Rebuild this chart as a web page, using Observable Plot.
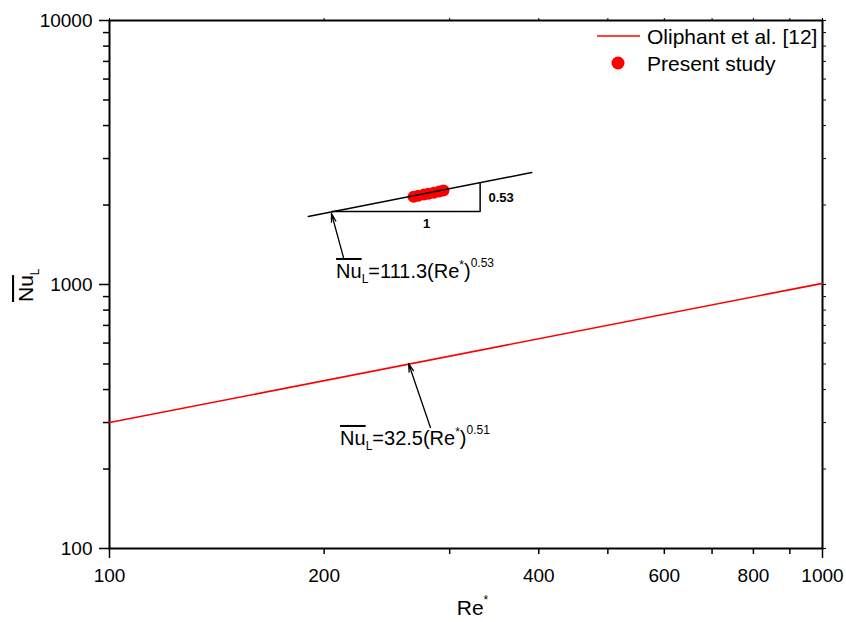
<!DOCTYPE html>
<html><head><meta charset="utf-8">
<script src="https://cdn.jsdelivr.net/npm/d3@7"></script>
<script src="https://cdn.jsdelivr.net/npm/@observablehq/plot@0.6"></script>
<style>
body{margin:0;background:#fff;}
svg{font-family:"Liberation Sans",Arial,Helvetica,sans-serif;}
</style>
</head><body><div id="chart"></div>
<script>
// Oliphant et al. [12] correlation line (as drawn)
const oliphantRe = [100, 1000];
const oliphantNu = [300, 1010];
// Present study points
const presentRe = [267, 271, 276, 280, 285, 290, 294];
const presentNu = [2150, 2168, 2190, 2208, 2228, 2250, 2268];
// Fit line of present study
const fitRe = [190, 391];
const fitNu = [1810, 2655];
// Slope triangle
const triRe = [205, 331, 331];
const triNu = [1890, 1890, 2429];
// Arrows (from label to line)
const arrowFromRe = [212.9, 281.9];
const arrowFromNu = [1266, 287.3];
const arrowToRe = [204.8, 262.7];
const arrowToNu = [1858, 502];
// Formula labels
const formulaRe = [208.2, 210.9];
const formulaNu = [1054, 245.6];
const formulaLead = ["Nu", "Nu"];
const formulaSub = ["L", "L"];
const formulaMid = ["=111.3(Re", "=32.5(Re"];
const formulaExp = ["0.53", "0.51"];
// Triangle labels
const slopeLabel = ["0.53"];
const slopeLabelRe = [340];
const slopeLabelNu = [2045];
const runLabel = ["1"];
const runLabelRe = [278.4];
const runLabelNu = [1644];
// Ticks
const xTickLabels = [100, 200, 400, 600, 800, 1000];
const xTicksLong = [100, 1000];
const xTicksShort = [200, 300, 400, 500, 600, 700, 800, 900];
const yTickLabels = [100, 1000, 10000];
const yTicksMinor = [200, 300, 400, 500, 600, 700, 800, 900, 2000, 3000, 4000, 5000, 6000, 7000, 8000, 9000];
const allXTicks = [100, 200, 300, 400, 500, 600, 700, 800, 900, 1000];
const allYTicks = [100, 200, 300, 400, 500, 600, 700, 800, 900, 1000, 2000, 3000, 4000, 5000, 6000, 7000, 8000, 9000, 10000];
// Legend
const legendLabels = ["Oliphant et al. [12]", "Present study"];
const xTitle = ["Re", "*"];
const yTitle = ["Nu", "L"];

const arrows = arrowFromRe.map((_, i) => ({x1: arrowFromRe[i], y1: arrowFromNu[i], x2: arrowToRe[i], y2: arrowToNu[i]}));

function richText(index, scales, values, dims) {
  const sx = scales.x, sy = scales.y;
  const g = d3.create("svg:g").attr("fill", "black").attr("text-anchor", "start");
  // Formula labels
  formulaRe.forEach((re, i) => {
    const t = g.append("text").attr("x", sx(re)).attr("y", sy(formulaNu[i])).attr("font-size", 20);
    t.append("tspan").attr("text-decoration", "overline").text(formulaLead[i]);
    t.append("tspan").attr("font-size", 12).attr("dy", 5).text(formulaSub[i]);
    t.append("tspan").attr("dy", -5).text(formulaMid[i]);
    t.append("tspan").attr("font-size", 12).attr("dy", -9).text("*");
    t.append("tspan").attr("dy", 9).text(")");
    t.append("tspan").attr("font-size", 12).attr("dy", -11).text(formulaExp[i]);
  });
  // Axis titles
  const xc = (dims.marginLeft + dims.width - dims.marginRight) / 2;
  const xt = g.append("text").attr("x", xc + 7).attr("y", 615).attr("font-size", 21).attr("text-anchor", "middle");
  xt.append("tspan").text(xTitle[0]);
  xt.append("tspan").attr("font-size", 12).attr("dy", -11).text(xTitle[1]);
  const yt = g.append("text").attr("transform", "translate(33,302) rotate(-90)").attr("font-size", 21);
  yt.append("tspan").attr("text-decoration", "overline").text(yTitle[0]);
  yt.append("tspan").attr("font-size", 12).attr("dy", 6).text(yTitle[1]);
  // Legend
  const lx = dims.width - dims.marginRight;
  g.append("line").attr("x1", lx - 225).attr("x2", lx - 182).attr("y1", 36).attr("y2", 36)
    .attr("stroke", "red").attr("stroke-width", 1.5);
  g.append("circle").attr("cx", lx - 204).attr("cy", 63).attr("r", 6.5).attr("fill", "red");
  g.append("text").attr("x", lx - 175).attr("y", 43.5).attr("font-size", 21).text(legendLabels[0]);
  g.append("text").attr("x", lx - 175).attr("y", 71).attr("font-size", 21).text(legendLabels[1]);
  return g.node();
}

const chart = Plot.plot({
  width: 846,
  height: 622,
  marginLeft: 109,
  marginRight: 24,
  marginTop: 20,
  marginBottom: 74,
  x: {type: "log", domain: [100, 1000], label: null},
  y: {type: "log", domain: [100, 10000], label: null},
  marks: [
    Plot.axisX(xTicksLong, {anchor: "bottom", tickSize: 10, tickFormat: () => "", label: null, strokeWidth: 1.5}),
    Plot.axisX(xTicksShort, {anchor: "bottom", tickSize: 6, tickFormat: () => "", label: null, strokeWidth: 1.5}),
    Plot.axisX(xTickLabels, {anchor: "bottom", tickSize: 0, tickPadding: 20, fontSize: 19, tickFormat: d => String(d), label: null}),
    Plot.axisX(allXTicks, {anchor: "top", tickSize: 3, tickFormat: () => "", label: null}),
    Plot.axisY(yTickLabels, {anchor: "left", tickSize: 10, tickPadding: 7, fontSize: 19, tickFormat: d => String(d), label: null, strokeWidth: 1.5}),
    Plot.axisY(yTicksMinor, {anchor: "left", tickSize: 6, tickFormat: () => "", label: null, strokeWidth: 1.5}),
    Plot.axisY(allYTicks, {anchor: "right", tickSize: 3, tickFormat: () => "", label: null}),
    Plot.frame({stroke: "black", strokeWidth: 2}),
    Plot.line(oliphantRe, {x: oliphantRe, y: oliphantNu, stroke: "red", strokeWidth: 1.6}),
    Plot.dot(presentRe, {x: presentRe, y: presentNu, r: 6, fill: "red", stroke: "none"}),
    Plot.line(fitRe, {x: fitRe, y: fitNu, stroke: "black", strokeWidth: 1.5}),
    Plot.line(triRe, {x: triRe, y: triNu, stroke: "black", strokeWidth: 1.5}),
    Plot.arrow(arrows, {x1: "x1", y1: "y1", x2: "x2", y2: "y2", stroke: "black", strokeWidth: 1.3, headLength: 10, headAngle: 30}),
    Plot.text(slopeLabel, {x: slopeLabelRe, y: slopeLabelNu, text: slopeLabel, textAnchor: "start", fontSize: 13, fontWeight: "bold", lineAnchor: "bottom", fill: "black"}),
    Plot.text(runLabel, {x: runLabelRe, y: runLabelNu, text: runLabel, textAnchor: "middle", fontSize: 13, fontWeight: "bold", lineAnchor: "bottom", fill: "black"}),
    richText
  ]
});
document.getElementById("chart").appendChild(chart);
</script>
</body></html>
